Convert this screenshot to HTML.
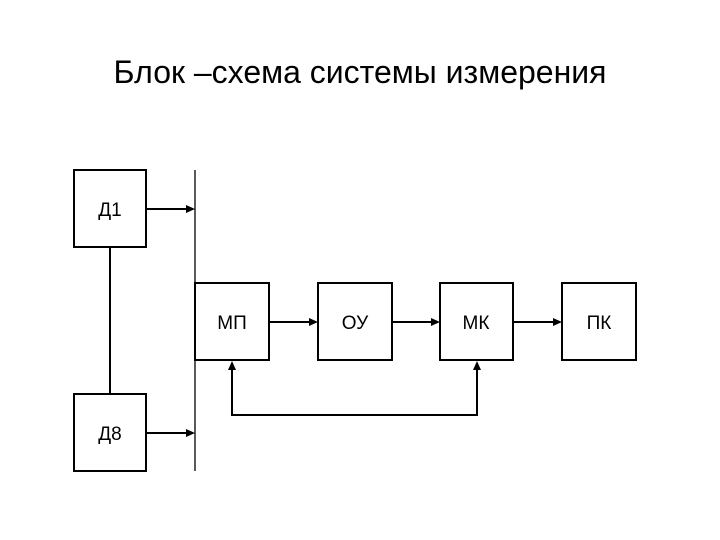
<!DOCTYPE html>
<html><head><meta charset="utf-8"><style>
html,body{margin:0;padding:0;background:#fff;}
</style></head><body>
<svg width="720" height="540" xmlns="http://www.w3.org/2000/svg" style="display:block">
<text x="360" y="83" text-anchor="middle" font-family="Liberation Sans, sans-serif" font-size="32" fill="#000">Блок –схема системы измерения</text>
<g fill="none" stroke="#000" stroke-width="2">
<rect x="74" y="170" width="72" height="77"/>
<rect x="74" y="394" width="72" height="77"/>
<rect x="195" y="283" width="74" height="77"/>
<rect x="318" y="283" width="74" height="77"/>
<rect x="440" y="283" width="73" height="77"/>
<rect x="562" y="283" width="74" height="77"/>
<line x1="110" y1="247" x2="110" y2="394"/>
<line x1="146" y1="209" x2="192" y2="209"/>
<line x1="146" y1="433" x2="192" y2="433"/>
<line x1="269" y1="322" x2="315" y2="322"/>
<line x1="392" y1="322" x2="437" y2="322"/>
<line x1="513" y1="322" x2="559" y2="322"/>
<polyline points="232,364 232,415 477,415 477,364"/>
</g>
<line x1="195" y1="170" x2="195" y2="471" stroke="#000" stroke-width="1.3"/>
<g fill="#000">
<polygon points="195,209 186,205 186,213"/>
<polygon points="195,433 186,429 186,437"/>
<polygon points="318,322 309,318 309,326"/>
<polygon points="440,322 431,318 431,326"/>
<polygon points="562,322 553,318 553,326"/>
<polygon points="232,361 228,370 236,370"/>
<polygon points="477,361 473,370 481,370"/>
</g>
<g font-family="Liberation Sans, sans-serif" font-size="19" text-anchor="middle" fill="#000">
<text x="110" y="216">Д1</text>
<text x="110" y="440">Д8</text>
<text x="232" y="329">МП</text>
<text x="355" y="329">ОУ</text>
<text x="476" y="329">МК</text>
<text x="599" y="329">ПК</text>
</g>
</svg>
</body></html>
